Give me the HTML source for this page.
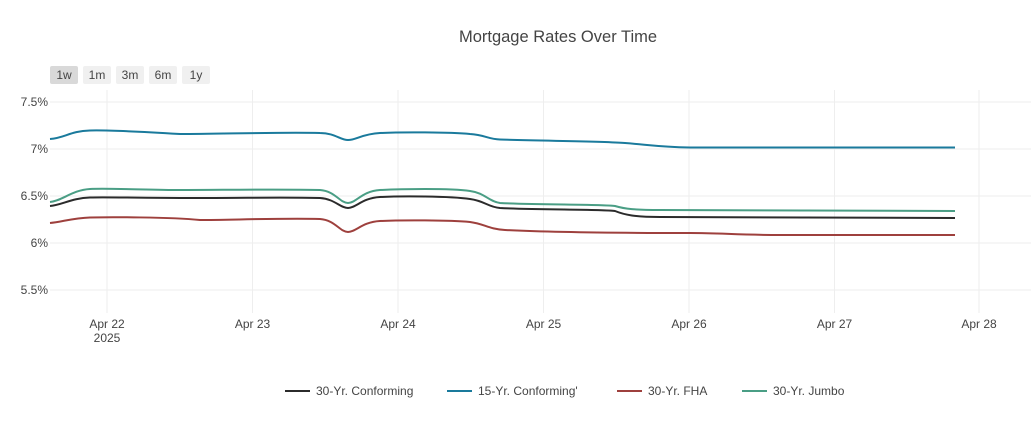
<!DOCTYPE html>
<html><head><meta charset="utf-8"><style>
body{margin:0;background:#fff;width:1031px;height:416px;overflow:hidden;font-family:"Liberation Sans",sans-serif}
</style></head><body>
<svg width="1031" height="416" xmlns="http://www.w3.org/2000/svg" font-family="Liberation Sans, sans-serif">
<text x="558" y="42" text-anchor="middle" font-size="16.5" fill="#444">Mortgage Rates Over Time</text>
<g font-size="12" fill="#444" text-anchor="middle">
<rect x="50" y="66" width="28" height="18" rx="2" fill="#d9d9d9"/><text x="64" y="79">1w</text>
<rect x="83" y="66" width="28" height="18" rx="2" fill="#f0f0f0"/><text x="97" y="79">1m</text>
<rect x="116" y="66" width="28" height="18" rx="2" fill="#f0f0f0"/><text x="130" y="79">3m</text>
<rect x="149" y="66" width="28" height="18" rx="2" fill="#f0f0f0"/><text x="163" y="79">6m</text>
<rect x="182" y="66" width="28" height="18" rx="2" fill="#f0f0f0"/><text x="196" y="79">1y</text>
</g>
<g stroke="#eee" stroke-width="1">
<line x1="50" x2="1031" y1="102" y2="102"/><line x1="50" x2="1031" y1="149" y2="149"/>
<line x1="50" x2="1031" y1="196" y2="196"/><line x1="50" x2="1031" y1="243" y2="243"/>
<line x1="50" x2="1031" y1="290" y2="290"/>
<line x1="107" x2="107" y1="90" y2="313"/><line x1="252.5" x2="252.5" y1="90" y2="313"/>
<line x1="398" x2="398" y1="90" y2="313"/><line x1="543.5" x2="543.5" y1="90" y2="313"/>
<line x1="689" x2="689" y1="90" y2="313"/><line x1="834.5" x2="834.5" y1="90" y2="313"/>
<line x1="979" x2="979" y1="90" y2="313"/>
</g>
<g font-size="12" fill="#444" text-anchor="end">
<text x="48" y="106">7.5%</text><text x="48" y="153">7%</text><text x="48" y="200">6.5%</text>
<text x="48" y="247">6%</text><text x="48" y="294">5.5%</text>
</g>
<g font-size="12" fill="#444" text-anchor="middle">
<text x="107" y="328">Apr 22</text><text x="107" y="342">2025</text>
<text x="252.5" y="328">Apr 23</text><text x="398" y="328">Apr 24</text><text x="543.5" y="328">Apr 25</text>
<text x="689" y="328">Apr 26</text><text x="834.5" y="328">Apr 27</text><text x="979" y="328">Apr 28</text>
</g>
<g fill="none" stroke-width="2" stroke-linejoin="round">
<path stroke="#1a7a9c" d="M50,139 C65,138 70,131 90,130.5 C107,130 130,131 180,134 C220,134 280,132 320,133 C335,133 340,140 348,140 C356,140 362,134 380,133 C400,132 450,132 470,134 C485,135 488,139 500,139.5 C540,141 600,141 625,143 C650,145 660,147 690,147.5 L955,147.5"/>
<path stroke="#4a9e85" d="M50,202 C62,201 72,190 90,189 C107,188 150,190 180,190 C220,190 280,189 320,190 C335,191 340,203 348,203 C356,203 362,191 380,190 C400,189 450,188 470,191 C485,193 488,201 500,203 C540,205 600,204 615,206 C625,209 635,210 660,210 L955,211"/>
<path stroke="#2b2b2b" d="M50,206 C62,205 72,198 90,197.5 C107,197 150,198 200,198 C250,198 280,197 320,198 C335,199 340,208 348,208 C356,208 362,198 380,197 C400,196 450,196 470,199 C485,201 488,207 500,208 C540,210 600,209 615,211 C625,215 635,217 660,217 L955,218"/>
<path stroke="#9e403d" d="M50,223 C62,222 72,218 90,217.5 C107,217 170,217 200,220 C230,220 280,218 320,219 C335,220 340,232 348,232 C356,232 362,222 380,221 C400,220 450,220 470,222 C485,224 488,229 505,230 C545,232 600,233 690,233 C720,233 740,235 780,235 L955,235"/>
</g>
<g font-size="12" fill="#444">
<line x1="285" x2="310" y1="391" y2="391" stroke="#2b2b2b" stroke-width="2"/><text x="316" y="395">30-Yr. Conforming</text>
<line x1="447" x2="472" y1="391" y2="391" stroke="#1a7a9c" stroke-width="2"/><text x="478" y="395">15-Yr. Conforming'</text>
<line x1="617" x2="642" y1="391" y2="391" stroke="#9e403d" stroke-width="2"/><text x="648" y="395">30-Yr. FHA</text>
<line x1="742" x2="767" y1="391" y2="391" stroke="#4a9e85" stroke-width="2"/><text x="773" y="395">30-Yr. Jumbo</text>
</g>
</svg>
</body></html>
